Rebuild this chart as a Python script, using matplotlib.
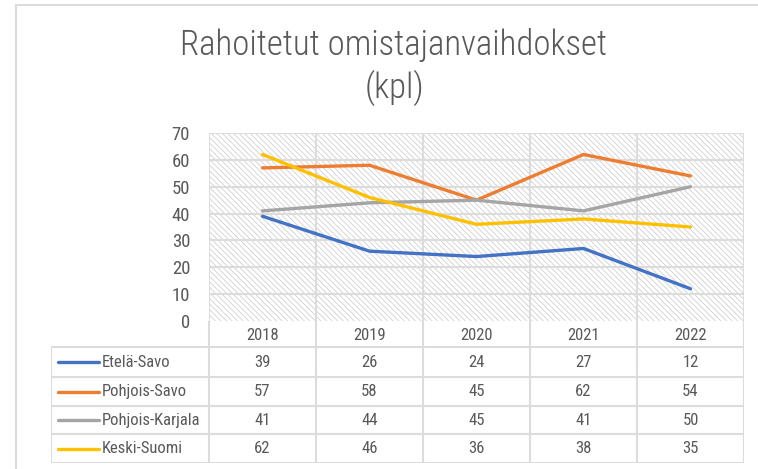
import matplotlib
matplotlib.use("Agg")
import matplotlib.pyplot as plt
from matplotlib.lines import Line2D
from matplotlib.patches import Rectangle

years = ["2018", "2019", "2020", "2021", "2022"]
regions = ["Etelä-Savo", "Pohjois-Savo", "Pohjois-Karjala", "Keski-Suomi"]
etela_savo = [39, 26, 24, 27, 12]
pohjois_savo = [57, 58, 45, 62, 54]
pohjois_karjala = [41, 44, 45, 41, 50]
keski_suomi = [62, 46, 36, 38, 35]
colors = ["#4472C4", "#ED7D31", "#A5A5A5", "#FFC000"]
yticks = [0, 10, 20, 30, 40, 50, 60, 70]
title = "Rahoitetut omistajanvaihdokset\n(kpl)"

plt.rcParams["font.family"] = ["Roboto Condensed", "Lato", "DejaVu Sans"]
plt.rcParams["hatch.linewidth"] = 0.5
plt.rcParams["hatch.color"] = "#c8c8c8"

TXT = "#595959"
GRID = "#dcdcdc"
W, H = 758, 469

fig = plt.figure(figsize=(W / 100, H / 100), dpi=100)

# outer chart border (left + top visible)
fig.add_artist(Line2D([16 / W, 16 / W], [0, 1 - 5 / H], color=GRID, lw=1.5))
fig.add_artist(Line2D([16 / W, 1], [1 - 5 / H, 1 - 5 / H], color=GRID, lw=1.5))

fig.text(394 / W, 1 - 67 / H, title, ha="center", va="center",
         fontsize=25, fontweight="light", color=TXT, linespacing=1.3)

# plot area
px0, px1, py0, py1 = 209, 744, 321, 133
ax = fig.add_axes([px0 / W, 1 - py0 / H, (px1 - px0) / W, (py0 - py1) / H])
ax.add_patch(Rectangle((0, 0), 1, 1, transform=ax.transAxes, facecolor="white",
                       hatch="\\\\\\\\\\\\", edgecolor="#c8c8c8", lw=0, zorder=0))
xs = list(range(len(years)))
series = [etela_savo, pohjois_savo, pohjois_karjala, keski_suomi]
for vals, c in zip(series, colors):
    ax.plot(xs, vals, color=c, lw=2.4, solid_capstyle="round", zorder=3)
ax.set_xlim(-0.5, len(years) - 0.5)
ax.set_ylim(0, 70)
ax.set_yticks(yticks)
ax.set_yticklabels([str(v) for v in yticks], fontsize=13.5, color=TXT)
ax.tick_params(axis="y", length=0, pad=13.5)
ax.set_xticks([])
for y in yticks[1:]:
    ax.axhline(y, color=GRID, lw=1.5, zorder=1)
for i in range(len(years) + 1):
    ax.axvline(i - 0.5, color=GRID, lw=1.5, zorder=1)
for s in ax.spines.values():
    s.set_visible(False)

# data table underneath
tx0, ty0, ty1 = 51, 321, 463
tab = fig.add_axes([tx0 / W, 1 - ty1 / H, (px1 - tx0) / W, (ty1 - ty0) / H])
tab.set_xlim(tx0, px1)
tab.set_ylim(ty1, ty0)
tab.axis("off")
colw = (px1 - px0) / len(years)
rows = [ty0, 347, 377, 406, 434, ty1]

# header row
tab.plot([px0, px1], [rows[1], rows[1]], color=GRID, lw=1.5)
for i in range(len(years) + 1):
    x = px0 + i * colw
    tab.plot([x, x], [rows[0], rows[-1]], color=GRID, lw=1.5)
for i, yr in enumerate(years):
    tab.text(px0 + (i + 0.5) * colw, (rows[0] + rows[1]) / 2 + 1, yr,
             ha="center", va="center", fontsize=12, color=TXT)

# body rows
for r in range(2, len(rows)):
    tab.plot([tx0, px1], [rows[r], rows[r]], color=GRID, lw=1.5)
tab.plot([tx0, tx0], [rows[1], rows[-1]], color=GRID, lw=1.5)
tab.plot([tx0, px0], [rows[1], rows[1]], color=GRID, lw=1.5)
for r, (name, vals, c) in enumerate(zip(regions, series, colors)):
    yc = (rows[r + 1] + rows[r + 2]) / 2
    tab.plot([58, 99], [yc, yc], color=c, lw=2.4, solid_capstyle="round")
    tab.text(102, yc, name, ha="left", va="center", fontsize=12, color=TXT)
    for i, v in enumerate(vals):
        tab.text(px0 + (i + 0.5) * colw, yc, str(v), ha="center", va="center",
                 fontsize=12, color=TXT)

fig.savefig("out.png", dpi=100)
